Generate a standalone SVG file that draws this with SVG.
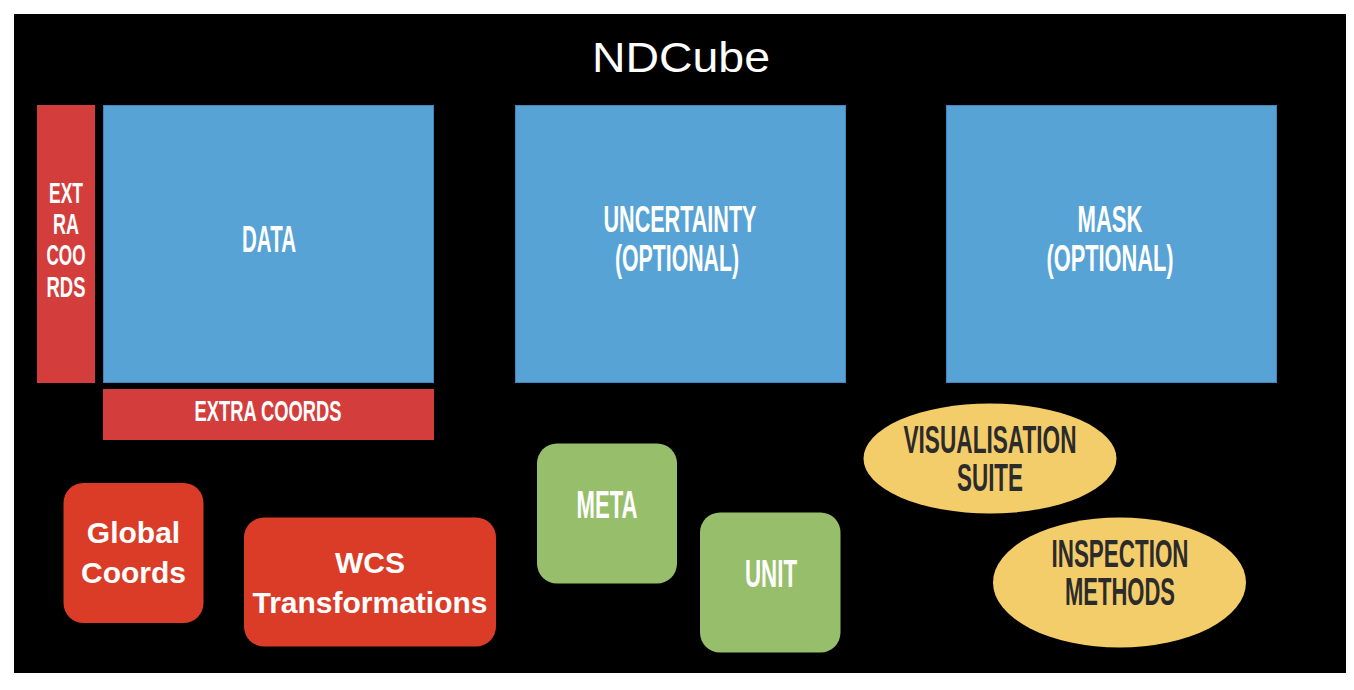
<svg xmlns="http://www.w3.org/2000/svg" width="1354" height="690" viewBox="0 0 1354 690">
  <style>
    .cube { fill: #57a3d5; stroke: #3f86bd; stroke-width: 1; }
    .xc { fill: #d33e3c; }
    .red { fill: #da3c28; }
    .green { fill: #97bf6b; }
    .yellow { fill: #f4cd6b; }
    .lbl { font-family: "Liberation Sans", Arial, sans-serif; font-weight: bold; fill: #ffffff; text-anchor: middle; }
    .dark { fill: #2b2b2b; }
    .title { font-family: "Liberation Sans", Arial, sans-serif; font-size: 42px; fill: #ffffff; text-anchor: middle; }
    .plain { font-family: "Liberation Sans", Arial, sans-serif; font-weight: bold; font-size: 30px; fill: #ffffff; text-anchor: middle; }
  </style>

  <rect x="0" y="0" width="1354" height="690" fill="#ffffff"/>
  <rect x="14" y="14" width="1332" height="659" fill="#000000"/>

  <text class="title" x="681" y="72" textLength="178" lengthAdjust="spacingAndGlyphs">NDCube</text>

  <g id="extra-coords-side">
    <rect class="xc" x="37" y="105" width="58" height="278"/>
    <text class="lbl" font-size="29" x="66" y="203" textLength="34" lengthAdjust="spacingAndGlyphs">EXT</text>
    <text class="lbl" font-size="29" x="66" y="234" textLength="26" lengthAdjust="spacingAndGlyphs">RA</text>
    <text class="lbl" font-size="29" x="66" y="265" textLength="39" lengthAdjust="spacingAndGlyphs">COO</text>
    <text class="lbl" font-size="29" x="66" y="297" textLength="39" lengthAdjust="spacingAndGlyphs">RDS</text>
  </g>

  <g id="data">
    <rect class="cube" x="103.5" y="105.5" width="330" height="277"/>
    <text class="lbl" font-size="37" x="269" y="252" textLength="54" lengthAdjust="spacingAndGlyphs">DATA</text>
  </g>

  <g id="extra-coords-bottom">
    <rect class="xc" x="103" y="389" width="331" height="51"/>
    <text class="lbl" font-size="30" x="268" y="421" textLength="147" lengthAdjust="spacingAndGlyphs">EXTRA COORDS</text>
  </g>

  <g id="uncertainty">
    <rect class="cube" x="515.5" y="105.5" width="330" height="277"/>
    <text class="lbl" font-size="37" x="680" y="232" textLength="153" lengthAdjust="spacingAndGlyphs">UNCERTAINTY</text>
    <text class="lbl" font-size="37" x="677" y="271" textLength="124" lengthAdjust="spacingAndGlyphs">(OPTIONAL)</text>
  </g>

  <g id="mask">
    <rect class="cube" x="946.5" y="105.5" width="330" height="277"/>
    <text class="lbl" font-size="37" x="1110" y="232" textLength="65" lengthAdjust="spacingAndGlyphs">MASK</text>
    <text class="lbl" font-size="37" x="1110" y="271" textLength="127" lengthAdjust="spacingAndGlyphs">(OPTIONAL)</text>
  </g>

  <g id="global-coords">
    <rect class="red" x="63.5" y="483" width="140" height="140" rx="20" ry="20"/>
    <text class="plain" x="133.5" y="543">Global</text>
    <text class="plain" x="133.5" y="583">Coords</text>
  </g>

  <g id="wcs">
    <rect class="red" x="244" y="517.5" width="252" height="129" rx="20" ry="20"/>
    <text class="plain" x="370" y="573">WCS</text>
    <text class="plain" x="370" y="613" textLength="235" lengthAdjust="spacingAndGlyphs">Transformations</text>
  </g>

  <g id="meta">
    <rect class="green" x="537" y="443.5" width="140" height="140" rx="20" ry="20"/>
    <text class="lbl" font-size="38" x="607" y="518" textLength="61" lengthAdjust="spacingAndGlyphs">META</text>
  </g>

  <g id="unit">
    <rect class="green" x="700" y="512.5" width="140.5" height="140" rx="20" ry="20"/>
    <text class="lbl" font-size="38" x="771" y="587" textLength="52" lengthAdjust="spacingAndGlyphs">UNIT</text>
  </g>

  <g id="visualisation">
    <ellipse class="yellow" cx="990" cy="458.5" rx="126.5" ry="55"/>
    <text class="lbl dark" font-size="38" x="990" y="453" textLength="173" lengthAdjust="spacingAndGlyphs">VISUALISATION</text>
    <text class="lbl dark" font-size="38" x="990" y="491" textLength="66" lengthAdjust="spacingAndGlyphs">SUITE</text>
  </g>

  <g id="inspection">
    <ellipse class="yellow" cx="1119.5" cy="582.5" rx="126.5" ry="65"/>
    <text class="lbl dark" font-size="38" x="1120" y="567" textLength="137" lengthAdjust="spacingAndGlyphs">INSPECTION</text>
    <text class="lbl dark" font-size="38" x="1120" y="605" textLength="110" lengthAdjust="spacingAndGlyphs">METHODS</text>
  </g>

  <g id="connectors"/>
</svg>
